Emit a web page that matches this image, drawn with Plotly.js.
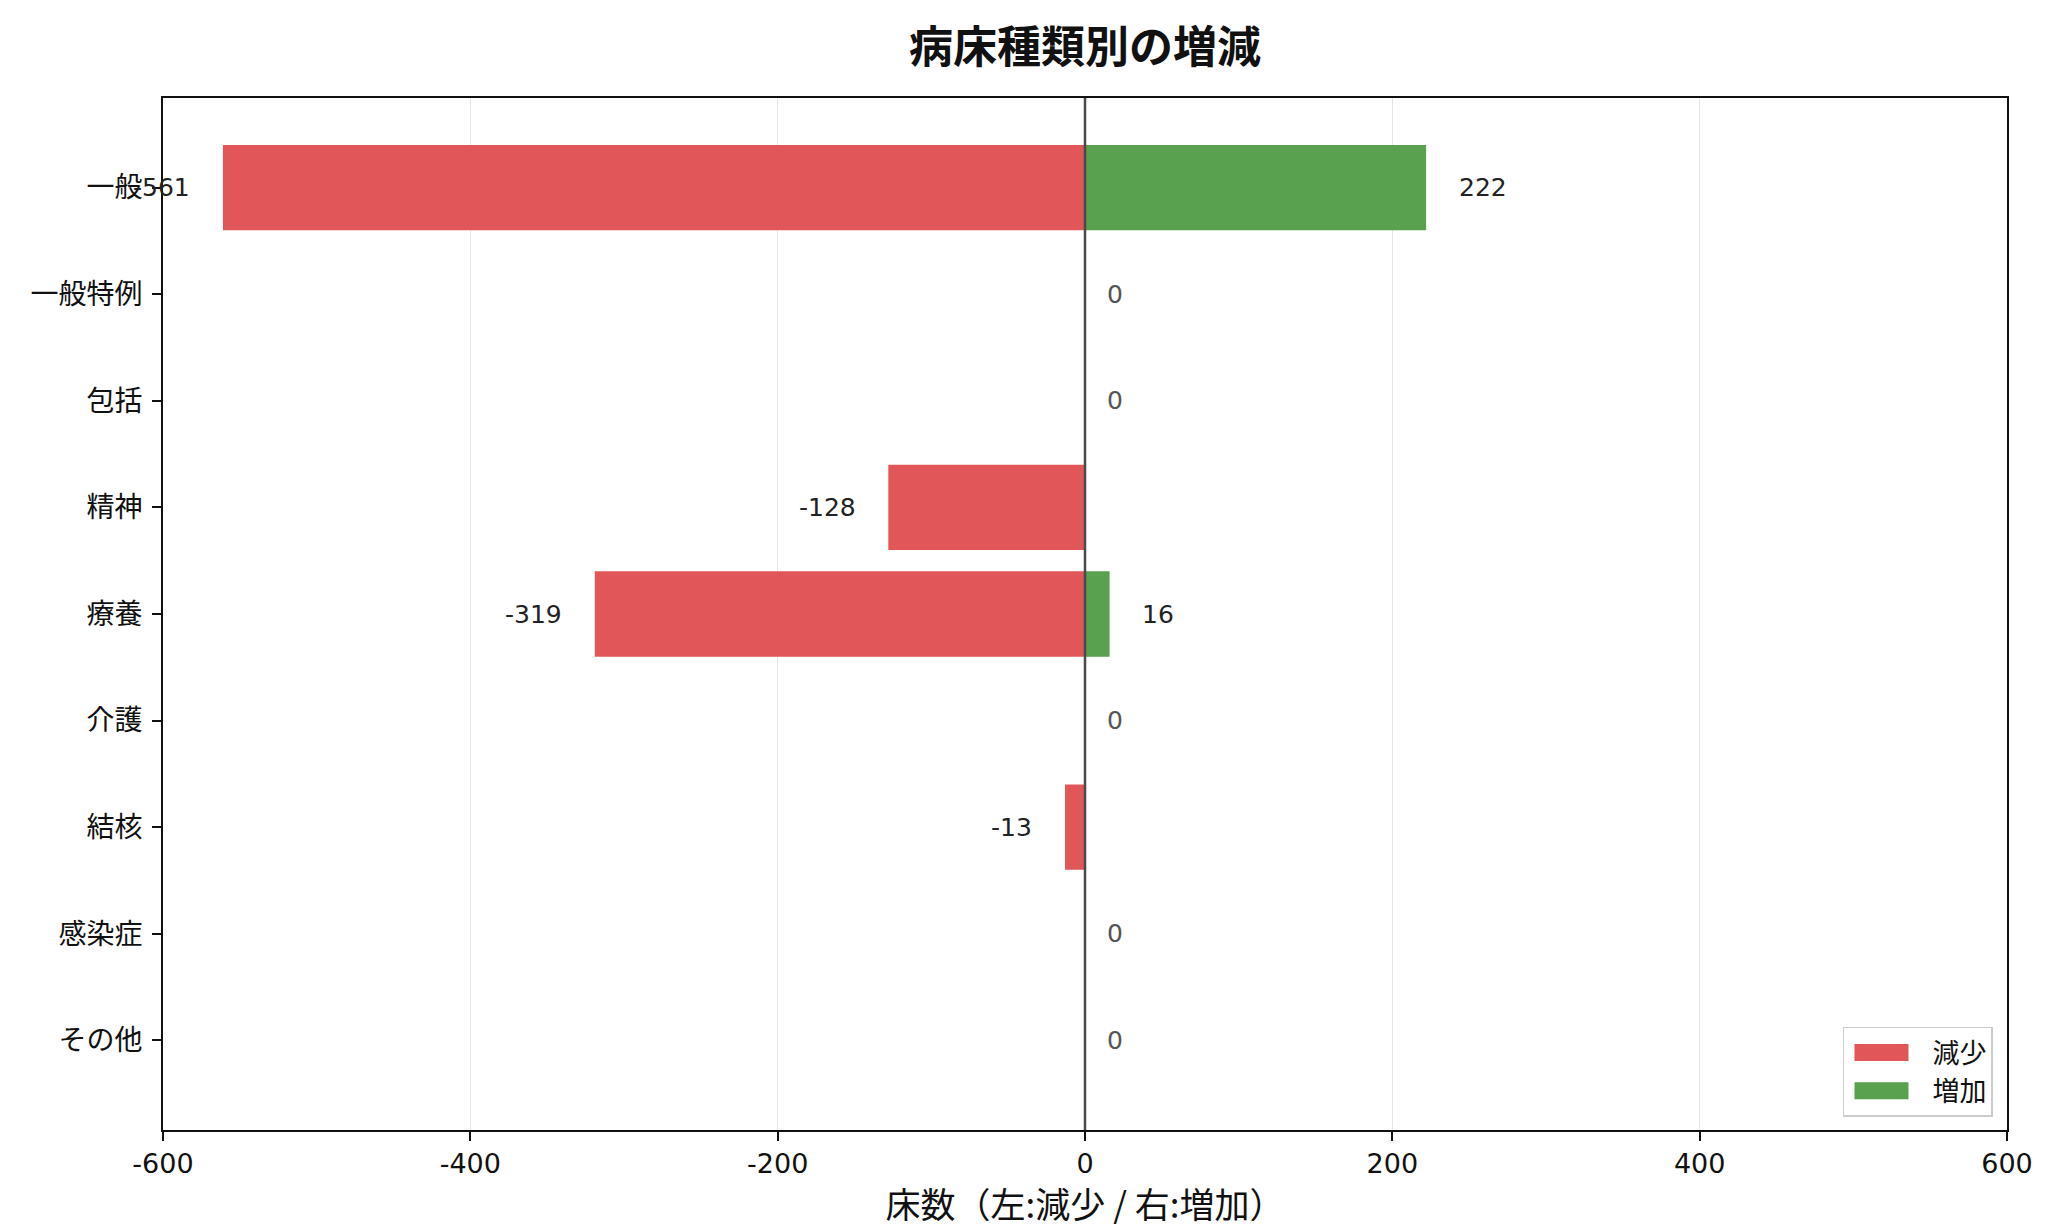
<!DOCTYPE html>
<html>
<head>
<meta charset="utf-8">
<script src="https://cdn.plot.ly/plotly-3.0.1.min.js"></script>
<style>html,body{margin:0;padding:0;background:#fff;}#chart{width:2048px;height:1228px;}</style>
</head>
<body>
<div id="chart"></div>
<script>
const categories = ["一般", "一般特例", "包括", "精神", "療養", "介護", "結核", "感染症", "その他"];
const decreaseValues = [-561, 0, 0, -128, -319, 0, -13, 0, 0];
const increaseValues = [222, 0, 0, 0, 16, 0, 0, 0, 0];
const xTickValues = [-600, -400, -200, 0, 200, 400, 600];
const xTickLabels = ["-600", "-400", "-200", "0", "200", "400", "600"];
const seriesNames = ["減少", "増加"];

const FONT = "'DejaVu Sans', 'Noto Sans CJK JP', sans-serif";
const CJK = "'Noto Sans CJK JP', 'DejaVu Sans', sans-serif";
const RED = "#e15759";
const GREEN = "#59a14f";

const traces = [
  {
    type: "bar", orientation: "h", name: seriesNames[0],
    y: categories, x: decreaseValues, width: 0.8,
    marker: {color: RED}, hoverinfo: "x+y"
  },
  {
    type: "bar", orientation: "h", name: seriesNames[1],
    y: categories, x: increaseValues, width: 0.8,
    marker: {color: GREEN}, hoverinfo: "x+y"
  }
];

const annotations = [];
categories.forEach((c, i) => {
  const d = decreaseValues[i], inc = increaseValues[i];
  if (d !== 0) {
    annotations.push({x: d - 20, y: c, xref: "x", yref: "y", text: String(d),
      showarrow: false, xanchor: "right", yanchor: "middle",
      font: {family: FONT, size: 25, color: "#222"}});
  }
  if (inc !== 0) {
    annotations.push({x: inc + 20, y: c, xref: "x", yref: "y", text: String(inc),
      showarrow: false, xanchor: "left", yanchor: "middle",
      font: {family: FONT, size: 25, color: "#222"}});
  }
  if (d === 0 && inc === 0) {
    annotations.push({x: 13, y: c, xref: "x", yref: "y", text: "0",
      showarrow: false, xanchor: "left", yanchor: "middle",
      font: {family: FONT, size: 25, color: "#555"}});
  }
});

const layout = {
  width: 2048, height: 1228,
  paper_bgcolor: "#fff", plot_bgcolor: "#fff",
  margin: {l: 163, r: 41, t: 98, b: 98},
  barmode: "overlay",
  font: {family: FONT, size: 27, color: "#111"},
  title: {
    text: "<b>病床種類別の増減</b>",
    font: {family: CJK, size: 44, color: "#111"},
    x: 0.5, xref: "paper", xanchor: "center",
    y: 1 - 48 / 1228, yref: "container", yanchor: "middle"
  },
  xaxis: {
    range: [-600, 600],
    tickvals: xTickValues, ticktext: xTickLabels,
    showgrid: true, gridcolor: "#e6e6e6", gridwidth: 1.3,
    zeroline: false,
    showline: true, linecolor: "#111", linewidth: 2, mirror: true,
    ticks: "outside", ticklen: 9, tickwidth: 2, tickcolor: "#111",
    tickfont: {family: FONT, size: 27, color: "#111"},
    title: {text: "床数（左:減少 / 右:増加）", font: {family: CJK, size: 35, color: "#111"}, standoff: 12}
  },
  yaxis: {
    type: "category",
    categoryorder: "array", categoryarray: categories,
    range: [8.84, -0.84],
    showgrid: false, zeroline: false,
    showline: true, linecolor: "#111", linewidth: 2, mirror: true,
    ticks: "outside", ticklen: 9, tickwidth: 2, tickcolor: "#111",
    ticklabelstandoff: 4,
    tickfont: {family: CJK, size: 28, color: "#111"}
  },
  shapes: [
    {type: "line", xref: "x", yref: "paper", x0: 0, x1: 0, y0: 0, y1: 1,
     line: {color: "#4a4a4a", width: 2.5}, layer: "above"}
  ],
  annotations: annotations,
  legend: {
    x: 0.9924, xanchor: "right", y: 0.0126, yanchor: "bottom",
    bgcolor: "rgba(255,255,255,0.9)", bordercolor: "#cccccc", borderwidth: 1.5,
    font: {family: CJK, size: 27, color: "#111"},
    traceorder: "normal", itemwidth: 78
  },
  showlegend: true
};

Plotly.newPlot("chart", traces, layout, {displayModeBar: false, staticPlot: true}).then(gd => {
  // widen the legend colour swatches to match the reference's patch shape
  gd.querySelectorAll(".legend .legendpoints path").forEach(p => {
    p.setAttribute("d", "M-34,8.5H20V-8.5H-34Z");
  });
});
</script>
</body>
</html>
